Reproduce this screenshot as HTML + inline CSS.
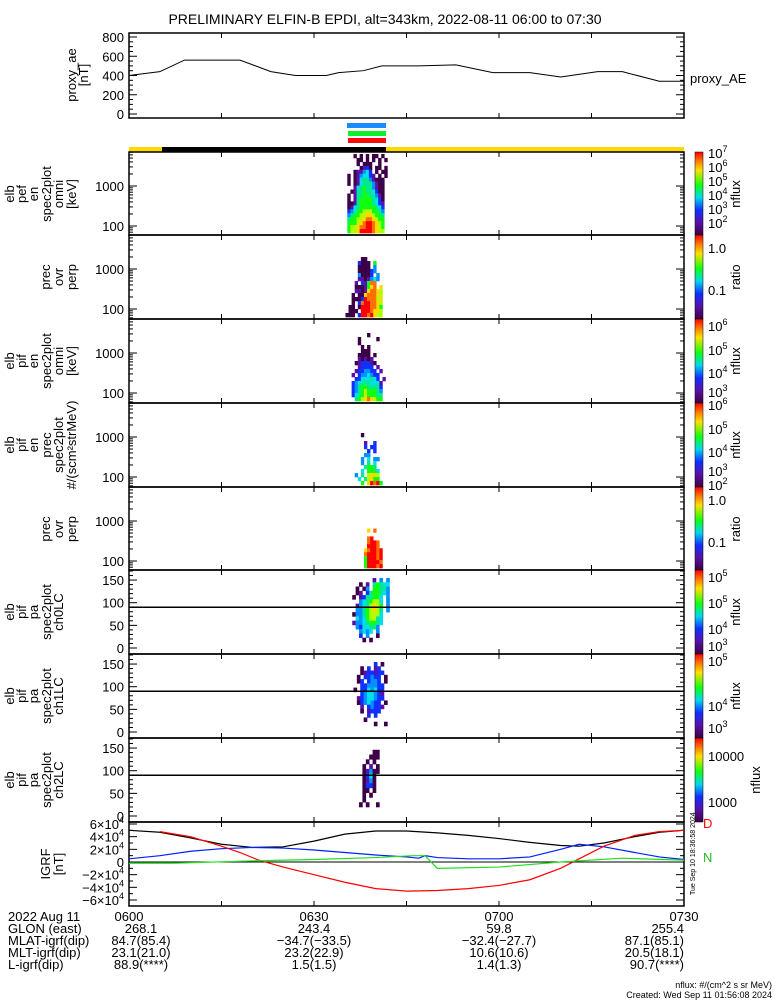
<!DOCTYPE html>
<html><head><meta charset="utf-8"><style>
body{margin:0;background:#fff}
svg text{font-family:"Liberation Sans",sans-serif;font-size:13px;fill:#000}
</style></head><body>
<svg id="c" width="775" height="1000" xmlns="http://www.w3.org/2000/svg">
<rect width="775" height="1000" fill="#fff"/>
<text x="385" y="24" text-anchor="middle" style="font-size:14px">PRELIMINARY ELFIN-B EPDI, alt=343km, 2022-08-11 06:00 to 07:30</text>
</svg>
<script>
// ---- data ----
const aeTimes=[0,5,9,18,23,27,32,34,38,41,47,53,59,65,70,76,80,86,90];
const aeValues=[400,440,560,560,440,400,400,430,450,500,500,510,430,430,385,440,440,340,340];
const igrfTimes=[0,5,10,15,20,25,30,35,40,45,50,55,60,65,70,73,77,82,86,90];
const igrfBlack=[50000,47000,38000,28000,23000,24000,33000,44000,49000,49000,46000,42000,37000,31000,26000,25000,30000,40000,47000,50000];
const igrfBlueTimes=[0,5,10,15,20,25,30,35,40,45,47,48,50,55,60,65,70,73,77,82,86,90];
const igrfBlue=[5000,10000,17000,21000,23000,22000,19000,15000,11000,8000,6000,10000,7000,5000,5000,8000,20000,28000,24000,15000,8000,4000];
const igrfRedTimes=[5,10,15,18,21,25,30,35,40,45,50,55,60,65,70,73,77,82,86,90];
const igrfRed=[48000,40000,25000,15000,3000,-8000,-20000,-32000,-42000,-46000,-45000,-42000,-37000,-28000,-10000,5000,25000,42000,48000,50000];
const igrfGreenTimes=[0,7,21,30,40,46,48,50,60,70,80,90];
const igrfGreen=[-2000,-2000,2000,4000,7000,10000,10000,-10000,-8000,0,6000,3000];
const xTickLabels=["0600","0630","0700","0730"];
const spec1=["..0.0.0.00.0.","...00.0.0.0.0","...0.000..0..","....0120.00.0","..011342.0.00","0.0134421.0.0","0.0145531000.","0.0145553100.","..1456553100.",".01556554200.","0.1556655310.","0.1566665420.","001566665421.","014566666542.","234667776653.","356677887665.","566778998766.","666789aa9876.","677899aa9876.","6778aaaa9877."];
const spec2=[".............",".............",".............",".............",".............",".....00......","....2000.6...","....0000.3...","....000023...","....30002.3..","....1101343..","...1.21699...","...0001689.8.","...110189987.","..0.00899987.","..0002a99978.","..0.29aa9987.",".00.0aaa9986.",".000.aaa9887.","000.2aa9a877."];
const spec3=[".............",".............",".............",".......0.....","....0.....0..","....0........",".....0.0.....",".....000.....","....0000.0...","....10101....","...0122210...","....12222.1..","...1223322.1.","..1.2334322..","...22444542.1","..2345554441.","..2356655552.","..2356766653.","..2456766655.","...567898766."];
const spec4=[".............",".............",".............",".............",".............",".............",".............",".....0.......",".............","......1..2...","......2.22...",".......2.2...","......33.....",".....3.4.33..",".....3.5.4...","......5665...",".....4.6664..","...3.5.7887..","....4.57866..",".....6.8a9a6."];
const spec5=[".............",".............",".............",".............",".............",".............",".............",".............",".............",".............",".......8.9...",".............",".......9a....",".......9aa9..",".......aaa9..","......89aa9a.","......9aaa9a.","......6aaa9a.","......6aaaa9.","......6aaa9a."];
const pa6=["........1.3.3","....0.1.56544","...0.03.66553","...01.2566543","..0.1255664.3","....3456774.3","...13457876.3","...33567875.3","..033567774..","...43467754..","..133456654..","...3244553...","....3434.3...","....2.3..0...",".....0.0....."];
const pa7=["........2.0.","....0.2.12..","....0122122.","...0.22322.0","...02.2332.0","....2233322..","..0.2243422..","....2344321..","...12344322..","...0234322.0.","....1.23221..","....0.1222...","......2.2....",".....0.......","........0..0."];
const pa8=[".........","......00.",".....000.","....0.0..","...0.1.0.","...01300.","...0240..","...0130..","...0220..","...00.0..","...0.0...","...0.....","..0.0..0."];

// ---- layout ----
const NS="http://www.w3.org/2000/svg",svg=document.getElementById('c');
const X0=129,X1=684;
const xs=m=>X0+(X1-X0)*m/90;
const cmap={'0':'#3c0048','1':'#5a10a8','2':'#1030ff','3':'#0090ff','4':'#00e0e8','5':'#00e890','6':'#10ff10','7':'#b0ff00','8':'#ffd800','9':'#ff7000','a':'#ff0000'};
function el(t,a,p){const e=document.createElementNS(NS,t);for(const k in a)e.setAttribute(k,a[k]);(p||svg).appendChild(e);return e;}
function txt(x,y,s,a){const e=el('text',Object.assign({x:x,y:y},a||{}));e.textContent=s;return e;}

function frame(top,bot,name){
  const r=el('rect',{x:X0,y:top,width:X1-X0,height:bot-top,fill:'none',stroke:'#000','stroke-width':1.5});
  
  
  for(let m=15;m<90;m+=15){const x=xs(m);el('line',{x1:x,x2:x,y1:bot,y2:bot-5,stroke:'#000'});el('line',{x1:x,x2:x,y1:top,y2:top+5,stroke:'#000'});}
}
function leftLabel(cx,cy,lines){lines.forEach((s,i)=>{const t=txt(0,0,s,{transform:`translate(${cx[i]},${cy}) rotate(-90)`,'text-anchor':'middle'});});}
function heat(grid,top,h,m0,dm,name){
  const rh=h/grid.length;
  grid.forEach((row,ri)=>{for(let ci=0;ci<row.length;ci++){const c=row[ci];if(!cmap[c])continue;
    const r=el('rect',{x:xs(m0+ci*dm),y:top+ri*rh,width:xs(dm)-X0+0.3,height:rh+0.3,fill:cmap[c]});
    
    }});
}
function cbar(top,bot,labels){
  const g=el('defs',{});const id='g'+top;
  const lg=el('linearGradient',{id:id,x1:0,y1:1,x2:0,y2:0},g);
  [['0','#3c0048'],['0.15','#5a10a8'],['0.3','#1030ff'],['0.45','#00d8f0'],['0.6','#10ff10'],['0.78','#ffe000'],['0.9','#ff7000'],['1','#ff0000']].forEach(s=>el('stop',{offset:s[0],'stop-color':s[1]},lg));
  const r=el('rect',{x:695,y:top,width:8,height:bot-top,fill:`url(#${id})`,stroke:'#000','stroke-width':0.5});
  
  
  labels.forEach(l=>{if(l[2]){const t=txt(708,l[1],l[0]);el('tspan',{dy:-6,style:'font-size:9px'},t).textContent=l[2];}else txt(708,l[1],l[0]);});
}
function rlabel(x,cy,s){const t=txt(0,0,s,{transform:`translate(${x},${cy}) rotate(-90)`,'text-anchor':'middle'});}
function logAxis(top,bot){
  const ys=v=>top+74-40*(Math.log10(v)-2);
  for(let d=10;d<=10000;d*=10)for(let k=1;k<10;k++){const v=d*k,y=ys(v);if(y<top||y>bot)continue;const L=k==1?8:4;
    el('line',{x1:X0,x2:X0+L,y1:y,y2:y,stroke:'#000'});el('line',{x1:X1,x2:X1-L,y1:y,y2:y,stroke:'#000'});}
  txt(124,ys(1000)+5,'1000',{'text-anchor':'end'});txt(124,ys(100)+5,'100',{'text-anchor':'end'});
}
function paAxis(top,bot){
  const ys=v=>top+78-v*0.453;
  [0,50,100,150].forEach(v=>{txt(124,ys(v)+5,String(v),{'text-anchor':'end'});});
  for(let v=0;v<=170;v+=10){const L=v%50==0?8:4;el('line',{x1:X0,x2:X0+L,y1:ys(v),y2:ys(v),stroke:'#000'});el('line',{x1:X1,x2:X1-L,y1:ys(v),y2:ys(v),stroke:'#000'});}
  el('line',{x1:X0,x2:X1,y1:ys(90),y2:ys(90),stroke:'#000','stroke-width':1.5});
}

// AE panel
(function(){const top=33,bot=118;const ys=v=>114-77*v/800;
  frame(top,bot,'proxy-ae');
  for(let v=0;v<=800;v+=50){const L=v%200==0?8:4;el('line',{x1:X0,x2:X0+L,y1:ys(v),y2:ys(v),stroke:'#000'});el('line',{x1:X1,x2:X1-L,y1:ys(v),y2:ys(v),stroke:'#000'});}
  [0,200,400,600,800].forEach(v=>txt(124,ys(v)+5,String(v),{'text-anchor':'end'}));
  const p=el('polyline',{points:aeTimes.map((t,i)=>xs(t)+','+ys(aeValues[i])).join(' '),fill:'none',stroke:'#000'});
  
  
  leftLabel([76,88],75,['proxy_ae','[nT]']);
  txt(690,83,'proxy_AE');
})();
// bars
[[123,'#1a8cff',347],[131,'#10ee30',348],[138,'#ff0a0a',348]].forEach(b=>{const r=el('rect',{x:b[2],y:b[0],width:386-b[2],height:5,fill:b[1]});});
el('rect',{x:X0,y:147,width:X1-X0,height:5,fill:'#ffd800'});
el('rect',{x:162,y:147,width:224,height:5,fill:'#000'});

// spectrogram panels
const P=[[152,235],[235,319],[319,403],[403,487],[487,570],[570,654],[654,738],[738,822]];
const specs=[spec1,spec2,spec3,spec4,spec5];
const starts=[35.4,35.1,35.1,35.1,35.1];
specs.forEach((g,i)=>{const [t,b]=P[i];heat(g,t+2,b-t-4,starts[i],0.5,'spectrogram-'+(i+1));frame(t,b,'spectrogram-'+(i+1));logAxis(t,b);});
heat(pa6,578,64,35.1,0.55,'pitch-angle-1');heat(pa7,662,64,35.3,0.55,'pitch-angle-2');heat(pa8,745,62,36.2,0.55,'pitch-angle-3');
[5,6,7].forEach(i=>{const [t,b]=P[i];frame(t,b,'pitch-angle-'+(i-4));paAxis(t,b);});

leftLabel([14,26,38,51,63,76],194,['elb','pef','en','spec2plot','omni','[keV]']);
leftLabel([50,63,76],277,['prec','ovr','perp']);
leftLabel([14,26,38,51,63,76],361,['elb','pif','en','spec2plot','omni','[keV]']);
leftLabel([14,26,38,51,63,76],445,['elb','pif','en','prec','spec2plot','#/(scm²strMeV)']);
leftLabel([50,63,76],529,['prec','ovr','perp']);
leftLabel([14,26,38,51,63],612,['elb','pif','pa','spec2plot','ch0LC']);
leftLabel([14,26,38,51,63],696,['elb','pif','pa','spec2plot','ch1LC']);
leftLabel([14,26,38,51,63],780,['elb','pif','pa','spec2plot','ch2LC']);

cbar(152,235,[['10',158,'7'],['10',172,'6'],['10',186,'5'],['10',200,'4'],['10',214,'3'],['10',228,'2']]);rlabel(740,194,'nflux');
cbar(235,319,[['1.0',253],['0.1',295]]);rlabel(740,277,'ratio');
cbar(319,403,[['10',331,'6'],['10',355,'5'],['10',378,'4'],['10',397,'3']]);rlabel(740,361,'nflux');
cbar(403,487,[['10',410,'6'],['10',434,'5'],['10',457,'4'],['10',476,'3'],['10',490,'2']]);rlabel(740,445,'nflux');
cbar(487,570,[['1.0',505],['0.1',547]]);rlabel(740,529,'ratio');
cbar(570,654,[['10',582,'5'],['10',608,'5'],['10',634,'4'],['10',651,'3']]);rlabel(740,612,'nflux');
cbar(654,738,[['10',666,'5'],['10',711,'4'],['10',733,'3']]);rlabel(740,696,'nflux');
cbar(738,822,[['10000',761],['1000',807]]);rlabel(760,780,'nflux');

// IGRF panel
(function(){const top=822,bot=906;const ys=v=>862-38*v/60000;
  frame(top,bot,'igrf');
  for(let v=-60000;v<=60000;v+=10000){const L=v%20000==0?8:4;el('line',{x1:X0,x2:X0+L,y1:ys(v),y2:ys(v),stroke:'#000'});el('line',{x1:X1,x2:X1-L,y1:ys(v),y2:ys(v),stroke:'#000'});}
  [60000,40000,20000,-20000,-40000,-60000].forEach(v=>{const t=txt(124,ys(v)+5,(v<0?'−':'')+Math.abs(v/10000)+'×10',{'text-anchor':'end'});el('tspan',{dy:-6,style:'font-size:9px'},t).textContent='4';});
  txt(124,ys(0)+5,'0',{'text-anchor':'end'});
  el('line',{x1:X0,x2:X1,y1:ys(0),y2:ys(0),stroke:'#000'});
  function line(ts,vs,c,n){const p=el('polyline',{points:ts.map((t,i)=>xs(t)+','+ys(vs[i])).join(' '),fill:'none',stroke:c,'stroke-width':1.2});}
  line(igrfTimes,igrfBlack,'#000','igrf-total-line');line(igrfBlueTimes,igrfBlue,'#0020ff','igrf-blue-line');
  line(igrfRedTimes,igrfRed,'#f00','igrf-red-line');line(igrfGreenTimes,igrfGreen,'#20e020','igrf-green-line');
  leftLabel([50,63],864,['IGRF','[nT]']);
  txt(703,828,'D').style.fill='#f00';txt(703,862,'N').style.fill='#20c020';
})();

// time labels
[0,30,60,90].forEach((m,i)=>{const t=txt(xs(m),921,xTickLabels[i],{'text-anchor':'middle'});});
txt(8,921,'2022 Aug 11');
const rows=[['GLON (east)','268.1','243.4','59.8','255.4'],['MLAT-igrf(dip)','84.7(85.4)','−34.7(−33.5)','−32.4(−27.7)','87.1(85.1)'],['MLT-igrf(dip)','23.1(21.0)','23.2(22.9)','10.6(10.6)','20.5(18.1)'],['L-igrf(dip)','88.9(****)','1.5(1.5)','1.4(1.3)','90.7(****)']];
rows.forEach((r,i)=>{const y=933+i*12;txt(8,y,r[0]);txt(xs(0)+12,y,r[1],{'text-anchor':'middle'});txt(xs(30),y,r[2],{'text-anchor':'middle'});txt(xs(60),y,r[3],{'text-anchor':'middle'});txt(xs(90),y,r[4],{'text-anchor':'end'});});
txt(772,988,'nflux: #/(cm^2 s sr MeV)',{'text-anchor':'end',style:'font-size:9px'});
txt(772,998,'Created: Wed Sep 11 01:56:08 2024',{'text-anchor':'end',style:'font-size:9px'});
txt(0,0,'Tue Sep 10 18:36:58 2024',{transform:'translate(695,895) rotate(-90)',style:'font-size:7px'});
</script>
</body></html>
